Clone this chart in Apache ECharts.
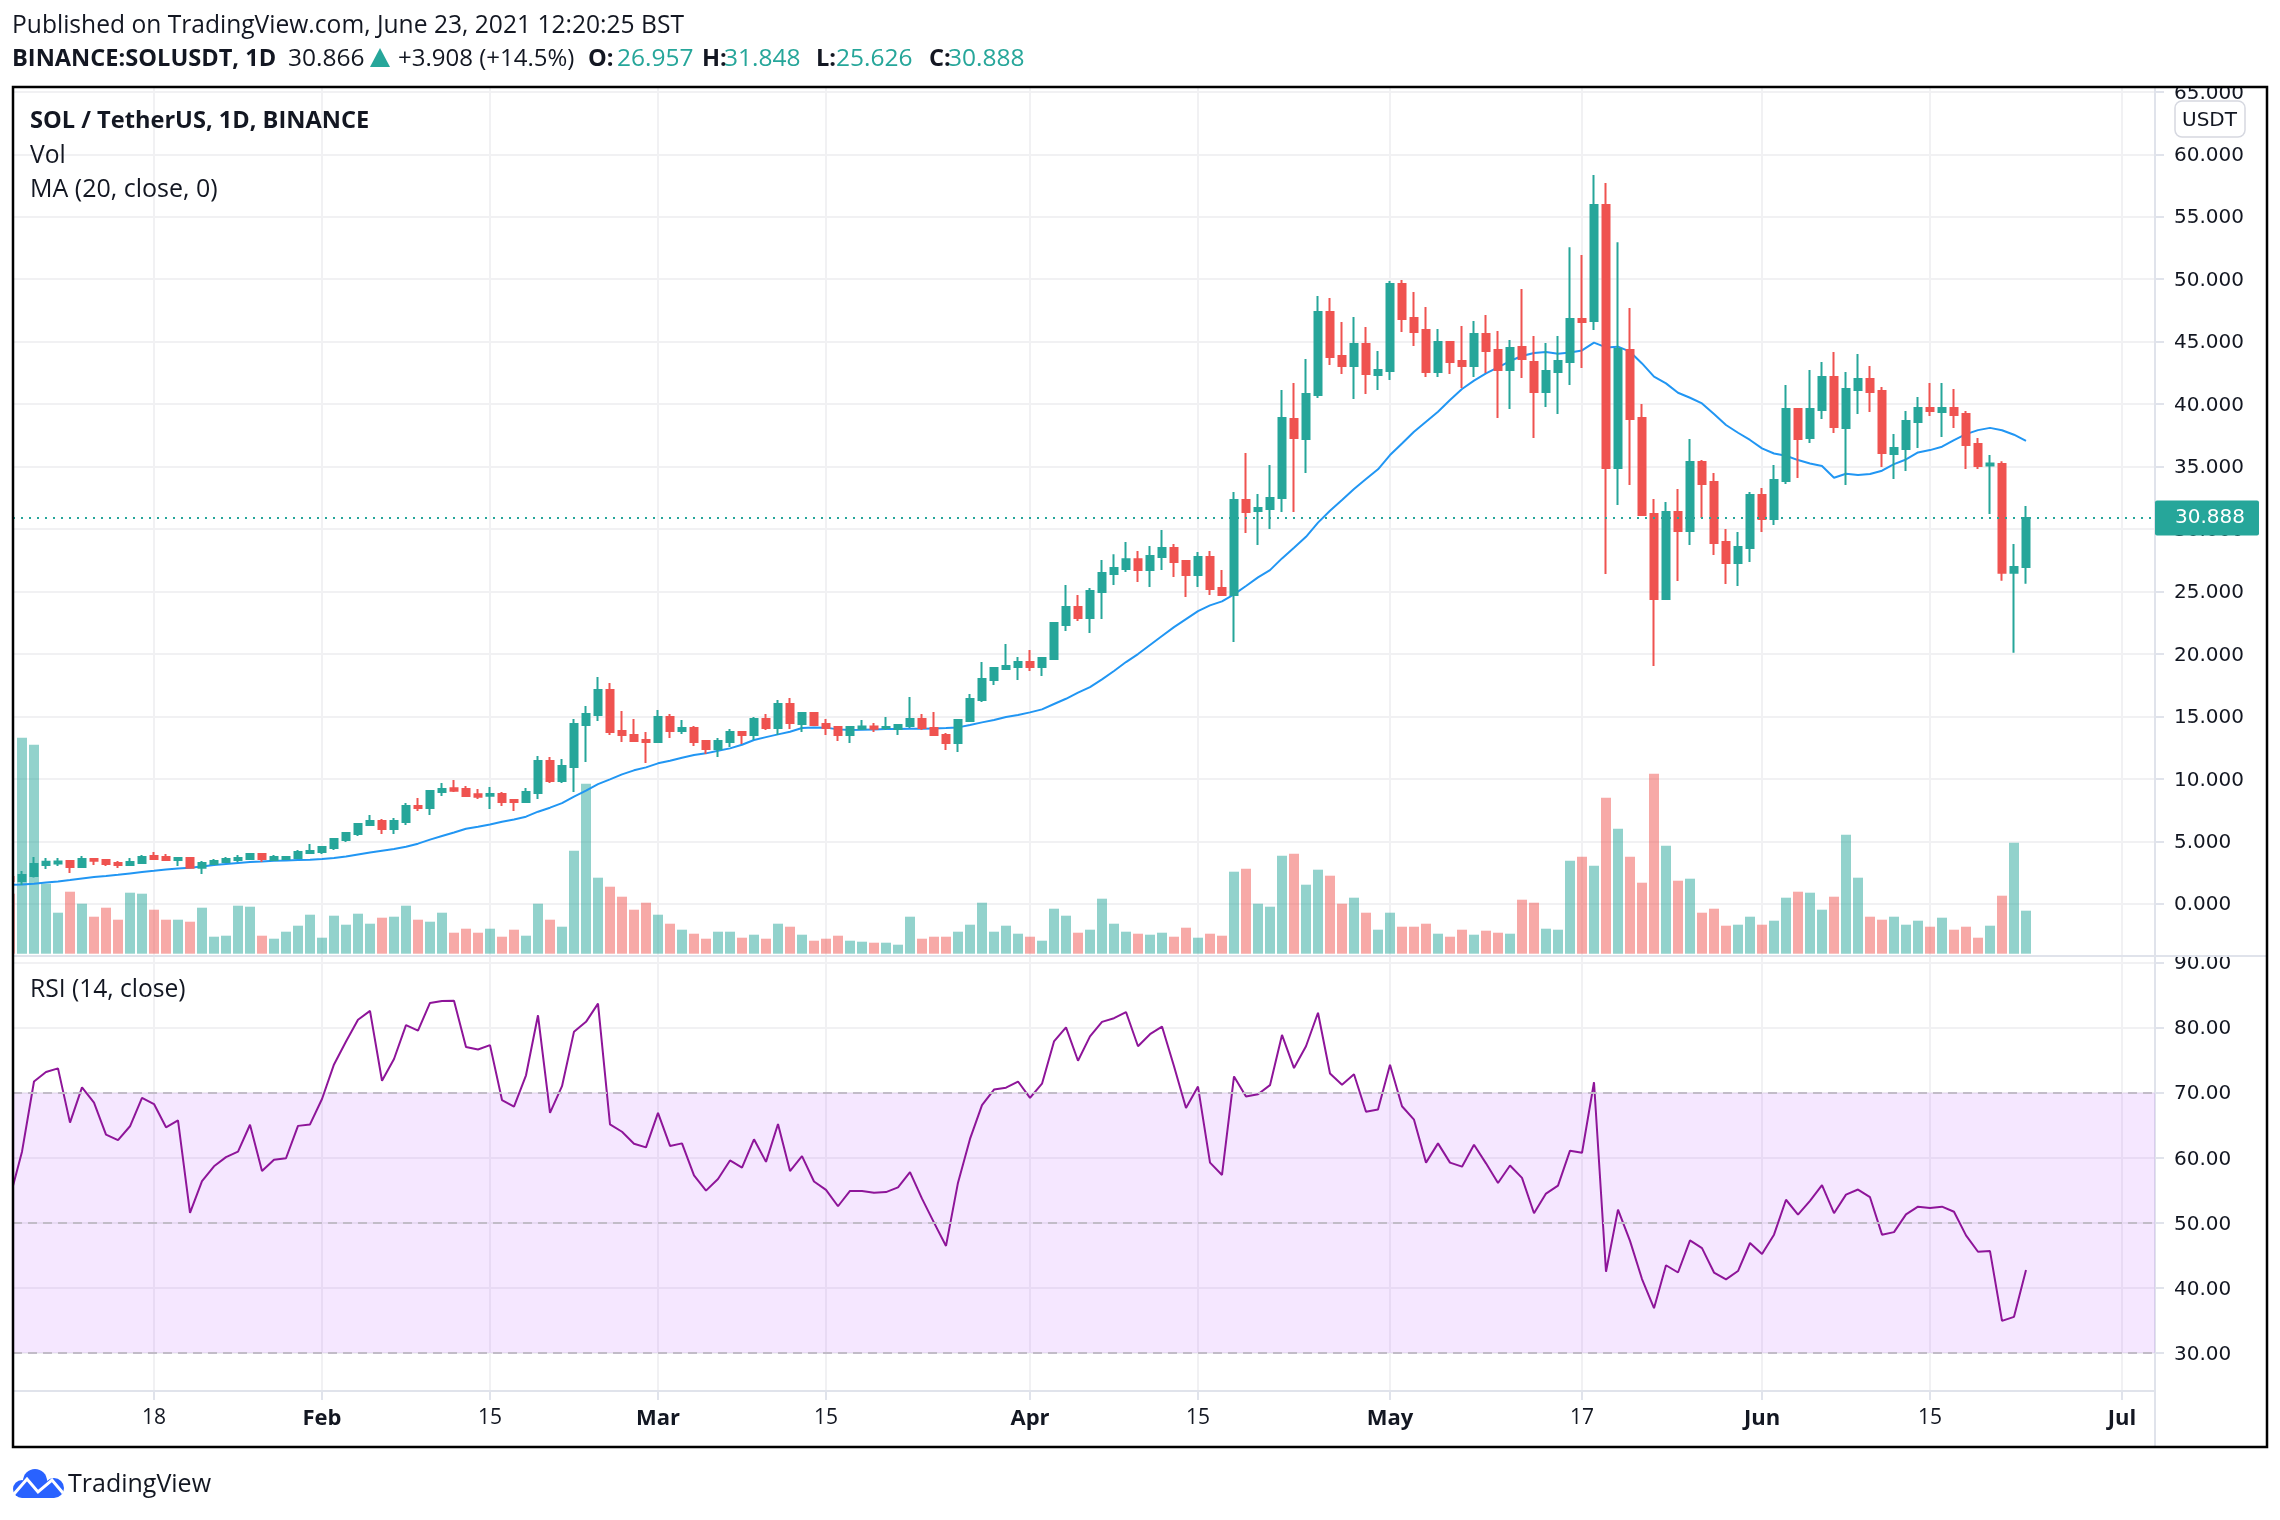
<!DOCTYPE html>
<html>
<head>
<meta charset="utf-8">
<title>SOLUSDT</title>
<script src="https://cdn.jsdelivr.net/npm/echarts@6/dist/echarts.min.js"></script>
<style>
html,body{margin:0;padding:0;background:#fff;}
#chart{width:2280px;height:1520px;}
</style>
</head>
<body>
<div id="chart"></div>
<script>
// one entry per day, from this date on
var firstDay = "2021-01-06";
var dayMs = 86400000;

var opens = [
	2.14,1.82,2.22,3.10,3.23,3.42,2.94,3.58,3.50,3.26,3.10,3.26,3.82,3.74,3.50,3.66,2.89,3.18,3.34,3.50,3.58,3.98,3.50,3.58,3.66,4.06,
	4.14,4.46,5.10,5.58,6.30,6.62,5.98,6.54,7.82,7.66,8.94,9.24,9.18,8.76,8.65,8.78,8.30,8.14,8.86,11.42,9.82,10.94,14.31,15.11,17.11,13.83,13.51,13.11,
	12.95,14.95,13.83,14.07,13.03,12.39,12.95,13.75,13.51,14.79,14.07,15.99,14.39,15.27,14.39,14.15,13.51,14.01,14.20,14.07,13.99,14.23,14.79,14.07,13.51,12.87,14.63,16.31,17.91,18.79,18.95,
	19.35,18.95,19.59,22.31,23.76,22.87,24.96,26.40,26.80,27.59,26.72,27.76,28.48,27.44,26.32,27.76,25.28,24.72,32.32,31.44,31.60,32.48,38.81,37.20,40.73,47.37,43.85,43.05,44.81,42.33,
	42.65,49.62,46.89,45.93,42.57,44.97,43.45,43.05,45.61,44.33,42.73,44.57,43.37,40.97,42.57,43.37,46.81,46.65,55.94,34.88,44.33,38.89,31.20,24.40,31.36,29.84,35.36,33.76,28.96,27.28,28.48,
	32.72,30.80,33.84,39.61,37.28,39.53,42.17,38.09,41.13,42.01,41.05,36.01,36.41,38.57,39.69,39.37,39.69,39.21,36.81,35.09,35.20,26.50,26.957
];
var closes = [
	1.82,2.30,3.18,3.37,3.39,2.94,3.58,3.45,3.18,3.10,3.34,3.74,3.58,3.50,3.66,2.89,3.26,3.42,3.58,3.66,3.98,3.58,3.74,3.74,4.14,4.22,
	4.54,5.18,5.66,6.38,6.62,5.98,6.62,7.82,7.66,9.02,9.18,9.05,8.62,8.57,8.78,8.14,8.14,8.94,11.42,9.82,11.03,14.39,15.19,17.11,13.75,13.51,13.03,12.95,
	14.95,13.83,14.07,12.95,12.39,13.03,13.75,13.51,14.79,14.07,15.99,14.47,15.27,14.31,14.07,13.51,14.15,14.20,14.01,14.15,14.31,14.79,14.07,13.51,12.87,14.71,16.39,17.99,18.87,19.03,19.35,
	18.95,19.67,22.47,23.76,22.87,25.04,26.48,26.88,27.59,26.72,27.84,28.48,27.36,26.32,27.76,25.20,24.72,32.32,31.36,31.68,32.48,38.89,37.28,40.81,47.37,43.77,43.05,44.81,42.41,42.73,
	49.62,46.81,45.77,42.57,44.97,43.37,43.05,45.61,44.25,42.73,44.49,43.61,40.97,42.65,43.45,46.81,46.57,55.94,34.88,44.41,38.81,31.12,24.40,31.36,29.84,35.36,33.60,28.88,27.28,28.56,32.72,
	30.80,33.92,39.61,37.20,39.61,42.17,38.17,41.21,42.01,40.97,36.09,36.49,38.65,39.69,39.45,39.69,39.13,36.73,35.04,35.25,26.50,26.957,30.888
];
var lows = [
	1.70,1.50,2.11,2.78,3.02,2.46,2.94,3.10,3.02,2.86,3.10,3.18,3.50,3.50,3.02,2.89,2.38,3.10,3.34,3.34,3.50,3.34,3.50,3.50,3.66,4.06,
	3.98,4.30,4.94,5.42,6.30,5.58,5.58,6.30,7.42,7.10,8.62,8.94,8.54,8.38,7.58,7.82,7.42,8.06,8.38,9.66,9.66,8.94,11.34,14.63,13.51,12.95,12.95,11.26,
	12.87,13.27,13.59,12.63,11.99,11.75,12.55,12.79,13.11,13.91,13.51,13.99,13.75,14.23,13.51,13.03,12.87,13.91,13.75,13.91,13.51,14.07,13.91,13.43,12.31,12.15,14.63,16.15,17.51,18.79,17.91,
	18.63,18.23,19.59,21.83,22.63,21.67,22.79,25.52,26.56,25.76,25.36,26.72,26.16,24.56,25.36,24.72,24.72,20.95,29.68,28.72,30.00,31.36,31.36,34.48,40.49,43.13,42.41,40.41,40.81,41.13,
	41.93,45.77,44.65,42.17,42.17,42.41,41.29,42.17,42.49,38.89,39.61,42.09,37.28,39.77,39.21,41.53,42.89,45.93,26.40,31.92,33.52,31.04,19.03,24.40,25.84,28.72,30.88,27.92,25.60,25.44,27.36,
	29.76,30.32,33.60,34.08,36.88,38.81,37.69,33.52,39.21,39.37,34.96,34.00,34.64,36.49,39.05,37.36,38.09,34.80,34.80,31.20,25.85,20.10,25.626
];
var highs = [
	2.25,2.62,3.74,3.66,3.66,3.50,3.82,3.58,3.58,3.42,3.66,3.90,4.14,3.98,3.66,3.66,3.42,3.58,3.74,3.90,4.06,3.98,3.90,3.82,4.30,4.78,
	4.54,5.18,5.74,6.46,7.10,6.78,6.86,8.06,8.46,9.02,9.66,9.90,9.42,9.18,9.34,8.94,8.38,9.26,11.83,11.75,11.59,14.79,15.83,18.15,17.67,15.43,14.79,13.75,
	15.51,15.19,14.71,14.23,13.03,13.27,13.99,13.83,14.95,15.19,16.31,16.47,15.35,15.35,14.79,14.23,14.23,14.71,14.47,14.95,14.31,16.55,15.19,15.35,13.67,14.71,16.79,19.35,18.95,20.79,19.75,
	20.31,19.75,22.47,25.52,24.72,25.28,27.52,27.99,28.96,28.24,28.64,29.92,28.80,27.52,28.16,28.24,26.72,32.96,36.09,32.80,35.12,41.13,41.69,43.61,48.65,48.49,46.57,46.97,46.17,44.25,
	49.86,49.94,48.97,47.77,46.01,44.97,46.25,46.65,47.13,45.85,45.13,49.22,45.45,44.89,45.45,52.57,51.93,58.34,57.70,52.97,47.69,40.01,32.40,32.16,33.20,37.20,35.52,34.48,30.00,29.76,32.96,
	33.28,35.12,41.53,39.69,42.73,43.37,44.17,42.57,44.01,43.05,41.37,37.60,39.45,40.57,41.69,41.69,41.21,39.45,37.28,35.92,35.43,28.80,31.848
];
// relative volume, no scale is printed for it
var volumes = [
	60,216,209,70,41,62,50,37,46,34,61,60,44,34,34,32,46,17,18,48,47,18,15,22,28,39,
	16,38,29,40,30,36,37,48,34,32,41,21,25,21,25,17,24,18,50,34,27,103,170,76,67,57,44,51,
	39,30,24,20,15,22,22,16,19,15,30,27,19,13,15,18,13,12,11,11,9,37,15,17,17,22,29,51,22,28,20,
	17,13,45,38,21,24,55,30,22,20,19,21,17,26,16,20,18,82,85,50,47,98,100,69,84,78,50,56,41,24,
	41,27,27,30,20,17,24,19,23,21,20,54,51,25,24,93,97,88,156,125,97,71,180,108,73,75,41,45,28,29,37,
	29,33,56,62,61,44,57,119,76,37,34,37,29,33,27,36,24,27,16,28,58,111,43
];
var maValues = [
	1.52,1.55,1.60,1.71,1.79,1.90,2.03,2.14,2.22,2.32,2.43,2.54,2.64,2.75,2.83,2.89,2.99,3.10,3.18,3.26,3.34,3.39,3.45,3.47,3.50,3.53,
	3.58,3.66,3.79,3.95,4.11,4.25,4.38,4.57,4.81,5.13,5.42,5.71,6.01,6.17,6.35,6.57,6.75,6.97,7.37,7.69,8.06,8.57,9.05,9.58,9.96,10.36,10.68,10.92,
	11.24,11.45,11.69,11.91,12.04,12.25,12.44,12.73,13.11,13.34,13.56,13.77,14.07,14.12,14.10,13.96,13.91,13.93,13.96,13.99,13.99,14.01,14.01,14.04,14.07,14.12,14.31,14.52,14.71,14.95,15.11,
	15.32,15.56,15.99,16.41,16.90,17.35,17.96,18.63,19.35,19.99,20.71,21.43,22.15,22.79,23.43,23.89,24.21,24.77,25.44,26.13,26.71,27.65,28.50,29.38,30.51,31.47,32.32,33.20,34.00,34.78,
	35.92,36.85,37.79,38.59,39.39,40.33,41.21,41.88,42.46,42.95,43.45,43.85,44.09,44.17,44.04,44.14,44.30,44.92,44.54,44.60,44.20,43.26,42.20,41.66,40.91,40.51,40.06,39.21,38.33,37.71,37.13,
	36.46,36.05,35.87,35.52,35.25,35.04,34.11,34.43,34.32,34.40,34.67,35.20,35.57,36.13,36.32,36.59,37.12,37.60,37.92,38.10,37.91,37.55,37.06
];
var rsiValues = [
	53.94,60.94,71.73,73.19,73.75,65.41,70.84,68.49,63.57,62.73,64.85,69.22,68.27,64.69,65.75,51.54,56.41,58.70,60.10,60.94,65.08,57.97,59.71,59.93,64.91,65.13,
	69.05,74.36,77.89,81.24,82.59,71.85,75.20,80.41,79.57,83.82,84.10,84.15,77.05,76.66,77.33,68.88,67.87,72.69,81.92,66.92,71.01,79.40,80.91,83.71,65.13,64.01,62.17,61.61,
	66.92,61.83,62.22,57.30,54.95,56.74,59.59,58.48,62.84,59.37,65.19,57.97,60.27,56.35,55.06,52.55,54.90,54.90,54.62,54.73,55.45,57.80,53.72,50.03,46.45,56.18,62.90,68.10,70.50,70.78,71.73,
	69.22,71.40,77.89,80.07,74.92,78.67,80.91,81.47,82.42,77.16,79.01,80.18,74.08,67.65,70.95,59.26,57.36,72.52,69.44,69.78,71.17,78.90,73.80,77.16,82.31,72.97,71.23,72.85,67.09,67.43,
	74.31,67.93,65.86,59.26,62.22,59.26,58.64,62.00,59.15,56.13,58.81,56.91,51.48,54.50,55.73,61.10,60.77,71.62,42.48,52.04,47.23,41.36,36.88,43.48,42.36,47.29,46.11,42.36,41.30,42.59,46.90,
	45.22,48.18,53.55,51.26,53.38,55.79,51.48,54.34,55.12,53.94,48.18,48.57,51.31,52.49,52.27,52.49,51.71,48.07,45.55,45.66,34.92,35.54,42.76
];

// axis ticks
var dateTicks = ["2021-01-18","2021-02-01","2021-02-15","2021-03-01","2021-03-15","2021-04-01","2021-04-15","2021-05-01","2021-05-17","2021-06-01","2021-06-15","2021-07-01"];
var dateLabels = ["18","Feb","15","Mar","15","Apr","15","May","17","Jun","15","Jul"];
var priceTicks = [0,5,10,15,20,25,30,35,40,45,50,55,60,65];
var rsiTicks = [30,40,50,60,70,80,90];
var rsiLevels = [70,50,30];
var lastPrice = 30.888;

var upColor = "#26a69a";
var downColor = "#ef5350";
var gridColor = "#f1f1f3";
var axisColor = "#e0e3eb";
var textColor = "#131722";
var mainFont = "'Open Sans'";
var axisFont = "'DejaVu Sans'";

//x axis counts days from firstDay
var t0 = Date.parse(firstDay + "T00:00:00Z");
var tickDays = [];
for(var i=0;i<dateTicks.length;i++){
	tickDays.push((Date.parse(dateTicks[i] + "T00:00:00Z")-t0)/dayMs);
}

var candleData = [], volumeData = [], maData = [], rsiData = [];
for(var i=0;i<opens.length;i++){
	var up = closes[i] >= opens[i];
	candleData.push([i,opens[i],closes[i],lows[i],highs[i]]);
	volumeData.push({value:[i,volumes[i]],itemStyle:{color:up?"rgba(38,166,154,0.5)":"rgba(239,83,80,0.5)"}});
	maData.push([i,maValues[i]]);
	rsiData.push([i,rsiValues[i]]);
}

function label(x,y,str,size,weight,color,font){
	return {
		type:'text',z:50,silent:true,
		style:{x:x,y:y+1.5,text:str,fill:color||textColor,font:(weight||'normal')+' '+size+'px '+(font||mainFont),textVerticalAlign:'middle'}
	};
}
function line(x1,y1,x2,y2,color,width,z){
	return {type:'line',z:z||40,silent:true,shape:{x1:x1,y1:y1,x2:x2,y2:y2},style:{stroke:color,lineWidth:width}};
}

function xAxisOf(gridIndex,showLabel){
	return {
		type:'value',gridIndex:gridIndex,
		min:0.25,max:178.75,
		axisLine:{show:showLabel,onZero:false,lineStyle:{color:axisColor,width:2}},
		axisTick:{show:showLabel,length:9,customValues:tickDays,lineStyle:{color:axisColor,width:2}},
		splitLine:{show:true,customValues:tickDays,lineStyle:{color:gridColor,width:2}},
		axisLabel:{
			show:showLabel,customValues:tickDays,margin:17,hideOverlap:false,
			formatter:function(value){
				var s = dateLabels[tickDays.indexOf(value)];
				return isNaN(parseInt(s)) ? "{m|"+s+"}" : "{d|"+s+"}";
			},
			rich:{
				m:{fontFamily:mainFont,fontSize:22,fontWeight:'bold',color:textColor},
				d:{fontFamily:mainFont,fontSize:21,color:textColor}
			}
		}
	};
}
function yAxisOf(gridIndex,min,max,ticks,digits){
	return {
		type:'value',gridIndex:gridIndex,position:'right',min:min,max:max,
		axisLine:{show:true,onZero:false,lineStyle:{color:axisColor,width:2}},
		axisTick:{show:true,length:9,customValues:ticks,lineStyle:{color:axisColor,width:2}},
		splitLine:{show:true,customValues:ticks,lineStyle:{color:gridColor,width:2}},
		axisLabel:{
			customValues:ticks,margin:19,
			showMinLabel:true,showMaxLabel:true,hideOverlap:false,
			formatter:function(v){return "{t|"+v.toFixed(digits)+"}";},
			//top padding drops the digits a little under the grid line
			rich:{t:{color:textColor,fontFamily:axisFont,fontSize:20,padding:[3,0,0,0]}}
		}
	};
}

var option = {
	animation:false,
	backgroundColor:'#ffffff',
	grid:[
		{left:13,width:2142,top:88,height:867.7},
		{left:13,width:2142,top:955.7,height:435.3}
	],
	xAxis:[xAxisOf(0,false),xAxisOf(1,true)],
	yAxis:[
		yAxisOf(0,-4.16,65.31,priceTicks,3),
		yAxisOf(1,24.14,91.08,rsiTicks,2),
		//volume sits on the floor of the price pane
		{type:'value',gridIndex:0,min:-2,max:865.7,show:false,splitLine:{show:false}}
	],
	series:[
		{
			name:'Vol',type:'bar',xAxisIndex:0,yAxisIndex:2,z:1,
			barWidth:10,data:volumeData,silent:true
		},
		{
			name:'MA',type:'line',xAxisIndex:0,yAxisIndex:0,z:2,
			showSymbol:false,silent:true,data:maData,
			lineStyle:{color:'#2196f3',width:2}
		},
		{
			name:'SOLUSDT',type:'candlestick',xAxisIndex:0,yAxisIndex:0,z:3,
			barWidth:8,silent:true,data:candleData,
			itemStyle:{color:upColor,color0:downColor,borderColor:upColor,borderColor0:downColor,borderWidth:2},
			markLine:{
				silent:true,symbol:'none',animation:false,
				lineStyle:{color:upColor,type:[2,6],width:2},
				label:{
					show:true,position:'end',distance:0,
					formatter:function(){return lastPrice.toFixed(3);},
					backgroundColor:upColor,color:'#ffffff',borderRadius:2,
					fontFamily:axisFont,fontSize:20,padding:[10,14,5,20]
				},
				data:[{yAxis:lastPrice}]
			}
		},
		{
			name:'RSI',type:'line',xAxisIndex:1,yAxisIndex:1,z:3,
			showSymbol:false,silent:true,data:rsiData,
			lineStyle:{color:'#8e1599',width:2},
			markArea:{
				silent:true,
				itemStyle:{color:'rgba(153,21,255,0.1)'},
				data:[[{yAxis:rsiLevels[2]},{yAxis:rsiLevels[0]}]]
			},
			markLine:{
				silent:true,symbol:'none',animation:false,label:{show:false},
				lineStyle:{color:'#c2bcc8',type:[9,6],width:2},
				data:[{yAxis:rsiLevels[0]},{yAxis:rsiLevels[1]},{yAxis:rsiLevels[2]}]
			}
		}
	],
	graphic:[
		//the top of 65.000 and 90.00 are cut by their pane in the picture
		{type:'rect',z:30,silent:true,shape:{x:2157,y:50,width:110,height:37},style:{fill:'#ffffff'}},
		{type:'rect',z:30,silent:true,shape:{x:2157,y:940,width:109,height:16},style:{fill:'#ffffff'}},
		//first day sticks out on the left of the frame
		{type:'rect',z:30,silent:true,shape:{x:0,y:87,width:13,height:1360},style:{fill:'#ffffff'}},
		line(13,956,2267,956,axisColor,2),
		line(2155,1391,2155,1447,axisColor,2),
		{type:'rect',z:45,silent:true,shape:{x:13,y:87,width:2254,height:1360},style:{fill:'none',stroke:'#000000',lineWidth:2.5}},
		//currency box
		{type:'rect',z:46,silent:true,shape:{x:2175,y:101,width:70,height:36,r:7},style:{fill:'#ffffff',stroke:'#d6d8e0',lineWidth:1.5}},
		label(2182,119,'USDT',20,'normal',textColor,axisFont),
		//header
		label(12,24,'Published on TradingView.com, June 23, 2021 12:20:25 BST',24.6),
		label(12,58,'BINANCE:SOLUSDT, 1D',23.6,'bold'),
		label(288,58,'30.866',24.5),
		{type:'polygon',z:50,silent:true,shape:{points:[[370,67],[390,67],[380,48]]},style:{fill:upColor}},
		label(398,58,'+3.908 (+14.5%)',24),
		label(588,58,'O:',23.6,'bold'),
		label(617,58,'26.957',24.5,'normal',upColor),
		label(702,58,'H:',23.6,'bold'),
		label(724,58,'31.848',24.5,'normal',upColor),
		label(816,58,'L:',23.6,'bold'),
		label(836,58,'25.626',24.5,'normal',upColor),
		label(929,58,'C:',23.6,'bold'),
		label(948,58,'30.888',24.5,'normal',upColor),
		//pane legends
		label(30,120,'SOL / TetherUS, 1D, BINANCE',23.6,'bold'),
		label(30,154,'Vol',24.6),
		label(30,188,'MA (20, close, 0)',25),
		label(30,988,'RSI (14, close)',24.6),
		//logo
		{type:'circle',z:50,silent:true,shape:{cx:22,cy:1489,r:9},style:{fill:'#2962ff'}},
		{type:'circle',z:50,silent:true,shape:{cx:35,cy:1481,r:12},style:{fill:'#2962ff'}},
		{type:'circle',z:50,silent:true,shape:{cx:54,cy:1488,r:10},style:{fill:'#2962ff'}},
		{type:'rect',z:50,silent:true,shape:{x:22,y:1483,width:32,height:15},style:{fill:'#2962ff'}},
		{type:'polyline',z:51,silent:true,shape:{points:[[14,1494],[27,1479],[38,1492],[52,1480],[63,1493]]},style:{stroke:'#ffffff',lineWidth:3,fill:'none'}},
		label(68,1483,'TradingView',25)
	]
};

var chart = echarts.init(document.getElementById("chart"));
chart.setOption(option);
</script>
</body>
</html>
